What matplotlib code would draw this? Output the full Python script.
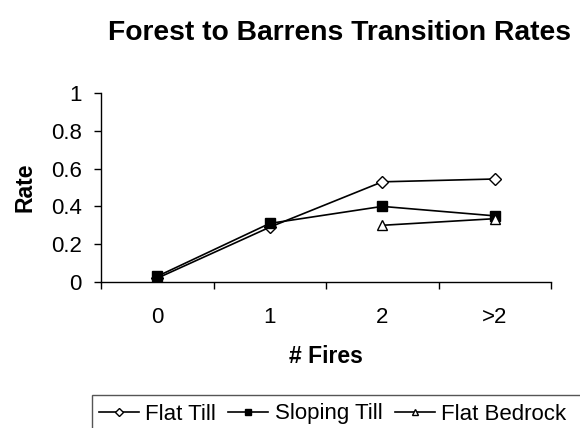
import matplotlib.pyplot as plt
from matplotlib.patches import Rectangle

plt.rcParams['font.family'] = ['Liberation Sans', 'DejaVu Sans']

categories = ['0', '1', '2', '>2']
flat_till = [0.02, 0.29, 0.53, 0.545]
sloping_till = [0.03, 0.31, 0.40, 0.35]
bedrock_cats = ['2', '>2']
flat_bedrock = [0.30, 0.335]

fig = plt.figure(figsize=(5.8, 4.28), dpi=100)
ax = fig.add_axes([101/580, 1-282/428, 450/580, 189/428])

xpos = list(range(len(categories)))
bx = [categories.index(c) for c in bedrock_cats]

ax.plot(xpos, flat_till, color='black', lw=1.2, marker='D', ms=6.5,
        mfc='white', mec='black', mew=1.0, label='Flat Till')
ax.plot(xpos, sloping_till, color='black', lw=1.2, marker='s', ms=6.5,
        mfc='black', mec='black', label='Sloping Till')
ax.plot(bx, flat_bedrock, color='black', lw=1.2, marker='^', ms=7,
        mfc='white', mec='black', mew=1.0, label='Flat Bedrock')

ax.set_xlim(-0.5, 3.5)
ax.set_ylim(0, 1)
ax.set_yticks([0, 0.2, 0.4, 0.6, 0.8, 1])
ax.set_yticklabels(['0', '0.2', '0.4', '0.6', '0.8', '1'])
ax.set_xticks(xpos)
ax.set_xticklabels(categories)
ax.set_xticks([-0.5, 0.5, 1.5, 2.5, 3.5], minor=True)
ax.tick_params(axis='x', which='major', length=0, labelsize=16, pad=18)
ax.tick_params(axis='x', which='minor', length=5, direction='out', width=1)
ax.tick_params(axis='y', length=5, direction='out', width=1, labelsize=16, pad=9)
for s in ['top', 'right']:
    ax.spines[s].set_visible(False)
for s in ['left', 'bottom']:
    ax.spines[s].set_linewidth(1)

ax.set_ylabel('Rate', fontsize=16.5, fontweight='bold', labelpad=10)
ax.set_xlabel('# Fires', fontsize=16.5, fontweight='bold', labelpad=12)
fig.text(340/580, 1-33/428, 'Forest to Barrens Transition Rates', fontsize=20.3,
         fontweight='bold', ha='center', va='center')

fig.legend(loc='center left', bbox_to_anchor=(99/580, 1-414/428), ncol=3,
           frameon=False, fontsize=16, handlelength=1.8, handletextpad=0.28,
           columnspacing=0.55, markerscale=0.6, borderaxespad=0, borderpad=0)
fig.patches.append(Rectangle((92/580, -0.1), 1, 1-395/428+0.1,
                             transform=fig.transFigure, fill=False,
                             edgecolor='#555555', lw=1))

fig.savefig('out.png', dpi=100)
